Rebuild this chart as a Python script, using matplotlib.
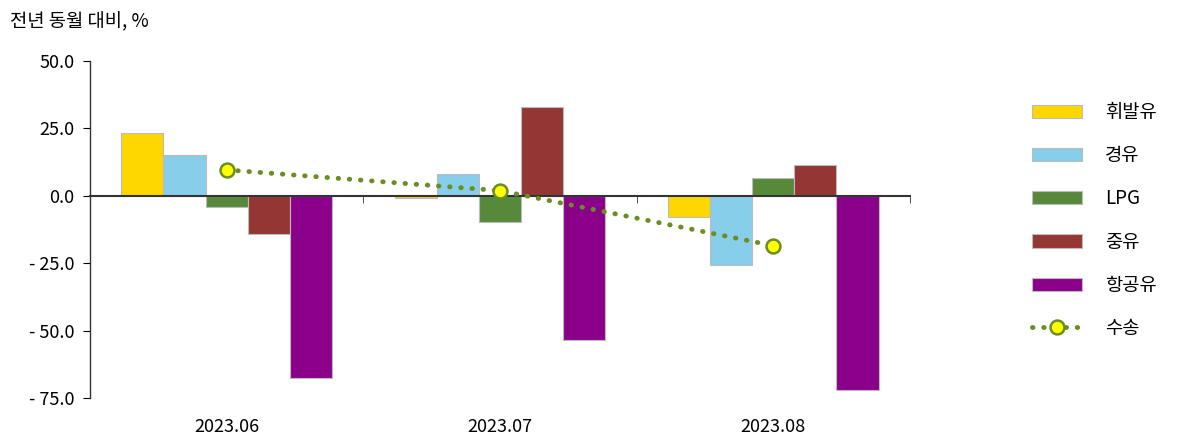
import matplotlib
matplotlib.use('Agg')
import matplotlib.pyplot as plt
import numpy as np
from matplotlib.patches import Patch
from matplotlib.lines import Line2D
from matplotlib.ticker import FuncFormatter

plt.rcParams['font.family'] = ['Noto Sans CJK KR', 'DejaVu Sans']

months = ['2023.06', '2023.07', '2023.08']
series = ['휘발유', '경유', 'LPG', '중유', '항공유']
gasoline = [23.4, -0.7, -7.8]
diesel = [15.2, 8.2, -25.6]
lpg = [-4.1, -9.6, 6.7]
heavy = [-14.1, 33.0, 11.5]
jet = [-67.5, -53.4, -72.0]
transport = [9.6, 1.9, -18.5]
yticks = [50, 25, 0, -25, -50, -75]

colors = ['#FFD700', '#87CEEB', '#568A3A', '#943634', '#8B008B']
values = [gasoline, diesel, lpg, heavy, jet]

fig = plt.figure(figsize=(11.98, 4.4), dpi=100)
ax = fig.add_axes([0.0751, 0.0955, 0.6845, 0.7659])

x = np.arange(len(months)) + 0.5
w = 0.154
for i, (vals, c) in enumerate(zip(values, colors)):
    ax.bar(x + (i - 2) * w, vals, width=w, color=c, edgecolor='#BBBBBB', linewidth=0.8, zorder=2)

ax.plot(x, transport, linestyle=(0, (0.1, 2.2)), dash_capstyle='round', linewidth=3.5,
        color='#6B8E23', marker='o', markersize=10, markerfacecolor='#FFFF00',
        markeredgecolor='#6B8E23', markeredgewidth=1.8, zorder=3)

ax.set_xlim(0, 3)
ax.set_ylim(-75, 50)
ax.set_yticks(yticks)
ax.yaxis.set_major_formatter(FuncFormatter(lambda v, p: f'- {abs(v):.1f}' if v < 0 else f'{v:.1f}'))
ax.tick_params(axis='y', direction='out', length=5, labelsize=13, pad=6)

for s in ['top', 'right']:
    ax.spines[s].set_visible(False)
ax.spines['left'].set_linewidth(1.0)
ax.spines['left'].set_color('#333333')
ax.spines['bottom'].set_position(('data', 0))
ax.spines['bottom'].set_linewidth(1.5)
ax.spines['bottom'].set_color('#333333')
ax.set_xticks([])
ax.set_xticks([1, 2, 3], minor=True)
ax.tick_params(axis='x', which='minor', direction='out', length=5, color='#333333')
ax.tick_params(axis='x', which='minor', labelbottom=False)

for xi, m in zip(x, months):
    ax.text(xi, -0.085, m, transform=ax.get_xaxis_transform(), ha='center', va='center', fontsize=13)

fig.text(0.008, 0.95, '전년 동월 대비, %', fontsize=13.5, ha='left', va='center')

handles = [Patch(facecolor=c, edgecolor='#BBBBBB', linewidth=0.8) for c in colors]
handles.append(Line2D([0], [0], linestyle=(0, (0.1, 2.2)), dash_capstyle='round', linewidth=3.5,
                      color='#6B8E23', marker='o', markersize=10, markerfacecolor='#FFFF00',
                      markeredgecolor='#6B8E23', markeredgewidth=1.8))
labels = series + ['수송']
fig.legend(handles, labels, loc='upper left', bbox_to_anchor=(0.847, 0.806), frameon=False,
           fontsize=13.5, handlelength=2.7, handleheight=0.7, handletextpad=1.2, labelspacing=1.18)

plt.savefig('out.png', dpi=100)
